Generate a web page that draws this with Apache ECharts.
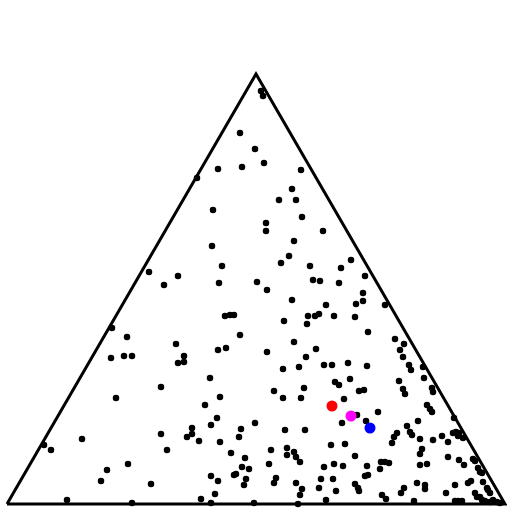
<!DOCTYPE html>
<html>
<head>
<meta charset="utf-8">
<script src="https://cdn.jsdelivr.net/npm/echarts@6/dist/echarts.min.js"></script>
<style>html,body{margin:0;padding:0;background:#fff;}#c{width:512px;height:512px;}</style>
</head>
<body>
<div id="c"></div>
<script>
// Triangle frame in plot units (base length 498, height 430)
const frameX = [0, 249, 498, 0];
const frameY = [0, 430, 0, 0];

// Black sample points (x along base, y height above base)
const sampleX = [254,256,233,248,211,235,257,294,190,285,272,289,206,295,
205,215,142,171,157,212,218,223,227,105,120,233,169,211,219,104,117,125,177,171,177,
259,259,316,287,282,274,303,344,334,250,306,313,332,358,260,356,356,285,319,349,378,
301,308,312,327,348,277,300,361,287,388,397,260,309,393,299,396,317,325,341,292,276,360,402,416,404,
109,75,37,44,121,100,94,60,125,
203,154,213,198,210,204,248,185,154,185,180,192,234,232,213,160,224,238,235,242,227,229,204,211,239,237,144,208,194,204,247,
328,332,343,267,297,276,294,352,357,337,350,371,359,335,278,298,324,338,264,280,280,287,289,293,348,262,327,336,317,360,374,378,373,358,361,269,267,314,326,289,348,351,352,312,329,295,293,375,319,379,291,
382,392,396,398,425,426,417,420,423,425,411,447,400,403,405,390,387,385,413,426,435,441,446,449,452,451,456,415,413,441,452,457,466,468,413,420,471,473,475,461,464,476,480,481,483,448,439,410,418,418,397,394,407,468,470,473,475,448,451,455,483,486,490,493,478];
const sampleY = [413,408,371,355,335,337,341,334,326,315,304,304,294,287,
258,238,232,228,219,221,188,189,189,176,167,169,160,154,156,146,148,148,148,141,142,
281,273,273,263,248,241,238,244,236,222,224,223,221,228,214,211,203,204,199,200,199,
188,188,190,188,187,183,180,172,162,165,160,152,155,154,147,147,139,139,141,137,135,138,139,137,134,
106,65,59,54,40,34,23,4,1,
126,117,107,99,86,79,81,76,70,70,67,63,75,67,62,54,51,46,37,35,29,30,28,23,25,19,20,10,5,1,1,
122,119,125,113,116,106,106,113,114,105,89,92,83,81,74,74,59,60,54,56,49,52,47,42,48,40,40,38,37,38,42,42,35,28,29,26,21,25,25,21,20,16,13,16,13,15,9,9,4,5,0,
41,123,115,110,116,112,126,99,95,92,83,86,78,72,69,71,67,61,65,64,68,62,71,72,71,68,66,55,50,47,44,39,45,43,39,40,36,32,31,21,23,22,16,14,11,19,11,21,19,15,16,11,3,11,7,7,4,3,3,3,2,4,2,1,3];

// Highlighted points
const redPoint = [325, 98];
const magentaPoint = [344, 88];
const bluePoint = [363, 76];

const samples = sampleX.map((x, i) => [x, sampleY[i]]);
const frame = frameX.map((x, i) => [x, frameY[i]]);

const chart = echarts.init(document.getElementById('c'), null, {renderer: 'canvas'});
chart.setOption({
  animation: false,
  backgroundColor: '#ffffff',
  grid: {left: 7, right: 7, top: 74, bottom: 8, containLabel: false},
  xAxis: {type: 'value', min: 0, max: 498, show: false},
  yAxis: {type: 'value', min: 0, max: 430, show: false},
  series: [
    {
      type: 'line', data: frame, symbol: 'none', clip: false, z: 1,
      lineStyle: {color: '#000', width: 3, join: 'miter'}
    },
    {
      type: 'scatter', data: samples, symbol: 'circle', symbolSize: 6.5, clip: false, z: 2,
      itemStyle: {color: '#000', opacity: 1}
    },
    {
      type: 'scatter', data: [redPoint], symbolSize: 11, clip: false, z: 3,
      itemStyle: {color: '#ff0000', opacity: 1}
    },
    {
      type: 'scatter', data: [magentaPoint], symbolSize: 11, clip: false, z: 3,
      itemStyle: {color: '#ff00ff', opacity: 1}
    },
    {
      type: 'scatter', data: [bluePoint], symbolSize: 11, clip: false, z: 3,
      itemStyle: {color: '#0000ff', opacity: 1}
    }
  ]
});
</script>
</body>
</html>
